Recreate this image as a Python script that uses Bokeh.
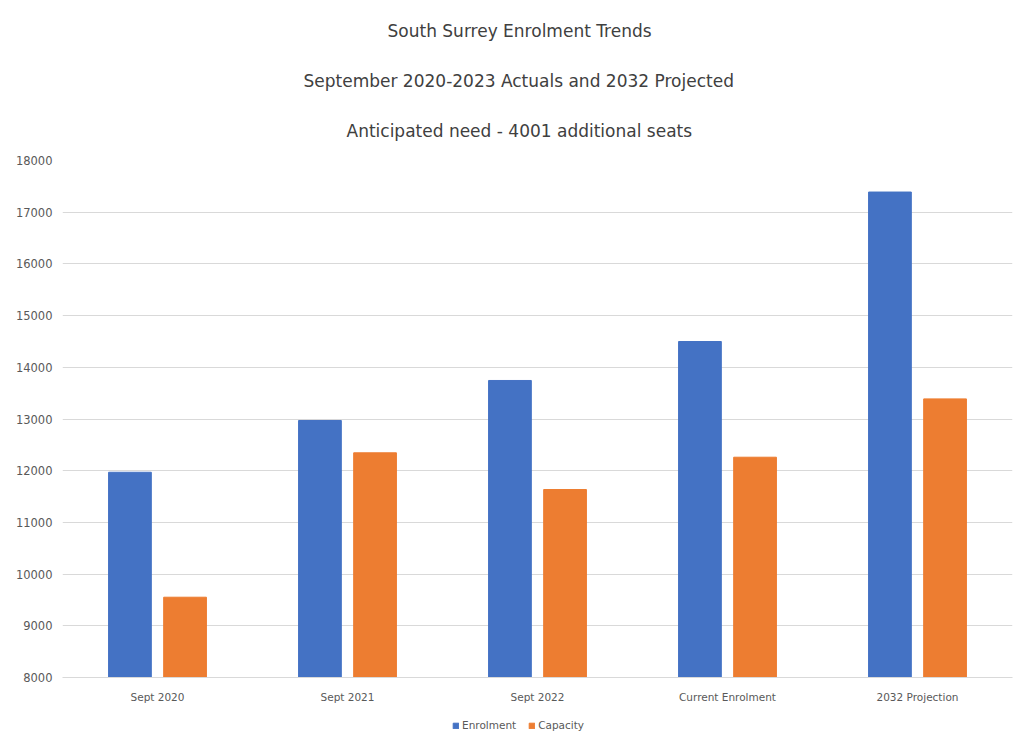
from bokeh.plotting import figure
from bokeh.layouts import column
from bokeh.models import FactorRange, Range1d, FixedTicker, Title, Legend, LegendItem, ColumnDataSource
from bokeh.transform import dodge
from bokeh.embed import file_html
from bokeh.resources import INLINE

categories = ["Sept 2020", "Sept 2021", "Sept 2022", "Current Enrolment", "2032 Projection"]
enrolment = [11970, 12971, 13745, 14499, 17390]
capacity = [9553, 12346, 11636, 12261, 13389]
y_ticks = [8000, 9000, 10000, 11000, 12000, 13000, 14000, 15000, 16000, 17000, 18000]
titles = ["South Surrey Enrolment Trends",
          "September 2020-2023 Actuals and 2032 Projected",
          "Anticipated need - 4001 additional seats"]
title_offsets = [325, 241, 284]
series_names = ["Enrolment", "Capacity"]
series_colors = ["#4472C4", "#ED7D31"]

src = ColumnDataSource(dict(cat=categories, enrolment=enrolment, capacity=capacity))

p = figure(width=1014, height=712, x_range=FactorRange(*categories),
           y_range=Range1d(8000, 18000), output_backend="svg", toolbar_location=None,
           min_border_left=62, min_border_right=2, min_border_top=160, min_border_bottom=35)

FONT = "DejaVu Sans"
p.vbar(x=dodge("cat", -0.145, range=p.x_range), top="enrolment", bottom=8000, width=0.225,
       source=src, color=series_colors[0])
p.vbar(x=dodge("cat", 0.145, range=p.x_range), top="capacity", bottom=8000, width=0.225,
       source=src, color=series_colors[1])

p.outline_line_color = None
p.xgrid.grid_line_color = None
p.ygrid.grid_line_color = "#D9D9D9"
p.ygrid.grid_line_width = 1

p.yaxis.ticker = FixedTicker(ticks=y_ticks)
p.yaxis.axis_line_color = None
p.yaxis.major_tick_line_color = None
p.yaxis.minor_tick_line_color = None
p.yaxis.major_tick_out = 0
p.yaxis.minor_tick_out = 0
p.yaxis.major_label_text_font = FONT
p.yaxis.major_label_text_font_size = "11.5px"
p.yaxis.major_label_text_color = "#595959"
p.yaxis.major_label_standoff = 10

p.xaxis.axis_line_color = "#D9D9D9"
p.xaxis.major_tick_line_color = None
p.xaxis.minor_tick_line_color = None
p.xaxis.major_tick_out = 0
p.xaxis.minor_tick_out = 0
p.xaxis.major_label_text_font = FONT
p.xaxis.major_label_text_font_size = "10.5px"
p.xaxis.major_label_text_color = "#595959"
p.xaxis.major_label_standoff = 13

# spacer between frame and the lowest title line
p.add_layout(Title(text=" ", text_font_size="1px", standoff=3), "above")
for t, off in reversed(list(zip(titles, title_offsets))):
    p.add_layout(Title(text=t, align="left", offset=off, text_font=FONT, text_font_size="17px",
                       text_font_style="normal", text_color="#404040", standoff=28), "above")

# legend strip below the chart
lg = figure(width=1014, height=26, output_backend="svg", toolbar_location=None,
            x_range=Range1d(0, 1), y_range=Range1d(0, 1), min_border=0)
lg.axis.visible = False
lg.grid.grid_line_color = None
lg.outline_line_color = None
offscreen = ColumnDataSource(dict(x=[-5.0], top=[-5.0]))
rs = [lg.vbar(x="x", top="top", width=0.1, source=offscreen, color=c) for c in series_colors]
legend = Legend(items=[LegendItem(label=n, renderers=[r]) for n, r in zip(series_names, rs)],
                orientation="horizontal", location=(390, 6),
                label_text_font=FONT, label_text_font_size="10.5px", label_text_color="#595959",
                glyph_width=7, glyph_height=7, spacing=12, padding=2, margin=0,
                border_line_color=None, background_fill_alpha=0, label_standoff=3,
                label_height=14)
lg.add_layout(legend)

layout = column(p, lg, spacing=0)
open("out.html", "w").write(file_html(layout, INLINE))
